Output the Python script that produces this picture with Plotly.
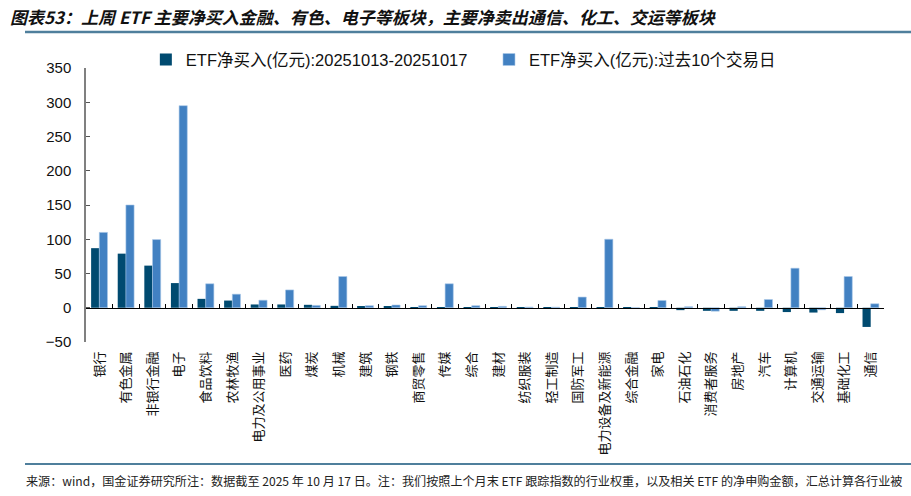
import plotly.graph_objects as go

categories = ["银行", "有色金属", "非银行金融", "电子", "食品饮料", "农林牧渔", "电力及公用事业",
              "医药", "煤炭", "机械", "建筑", "钢铁", "商贸零售", "传媒", "综合", "建材",
              "纺织服装", "轻工制造", "国防军工", "电力设备及新能源", "综合金融", "家电",
              "石油石化", "消费者服务", "房地产", "汽车", "计算机", "交通运输", "基础化工", "通信"]

week_values = [87, 79, 61.5, 36, 13, 10.5, 4.8, 4.8, 4.3, 2.8, 1.8, 1.2, 0.8, 0.8, 0.6, 0.4,
               0.8, 0.5, -0.6, -1.2, -0.5, -1.5, -3.5, -4.5, -4.5, -4.5, -6.3, -7, -7.8, -28]

ten_day_values = [110, 150, 99.5, 295, 35, 19.8, 11, 26, 3.4, 45.6, 3, 4, 3, 35, 3, 2,
                  1, 0.8, 15.6, 100, -0.5, 10.6, 1.5, -5, 1.5, 12, 57.7, -3, 45.6, 5.8]

week_name = "ETF净买入(亿元):20251013-20251017"
ten_day_name = "ETF净买入(亿元):过去10个交易日"

y_ticks = [-50, 0, 50, 100, 150, 200, 250, 300, 350]

title_text = "图表53：上周 ETF 主要净买入金融、有色、电子等板块，主要净卖出通信、化工、交运等板块"
source_text = ("来源：wind，国金证券研究所注：数据截至 2025 年 10 月 17 日。注：我们按照上个月末 ETF "
               "跟踪指数的行业权重，以及相关 ETF 的净申购金额，汇总计算各行业被")

DARK = "#004a70"
LIGHT = "#4281c2"
CJK = "Noto Sans CJK SC"
LAT = "Liberation Sans, Noto Sans CJK SC"

fig = go.Figure()
fig.add_trace(go.Bar(x=categories, y=week_values, name=week_name,
                     marker=dict(color=DARK, line=dict(width=0)), legend="legend"))
fig.add_trace(go.Bar(x=categories, y=ten_day_values, name=ten_day_name,
                     marker=dict(color=LIGHT, line=dict(width=0.6, color="#a9c8e8")),
                     legend="legend2"))
# helper (invisible) trace to carry the zero-position category axis
fig.add_trace(go.Scatter(x=categories, y=[None] * len(categories), xaxis="x2", yaxis="y",
                         mode="markers", showlegend=False, hoverinfo="skip"))

y_min, y_max = y_ticks[0], y_ticks[-1]
zero_pos = (0 - y_min) / (y_max - y_min)

fig.update_layout(
    width=911, height=496,
    margin=dict(l=86, r=27, t=68, b=154),
    paper_bgcolor="white", plot_bgcolor="white",
    barmode="group", bargap=0.385, bargroupgap=0.0,
    showlegend=True,
    legend=dict(orientation="h", x=0.075, y=1.03, xanchor="left", yanchor="middle",
                font=dict(family=LAT, size=16.5, color="#111"), itemwidth=30,
                bgcolor="rgba(0,0,0,0)"),
    legend2=dict(orientation="h", x=0.505, y=1.03, xanchor="left", yanchor="middle",
                 font=dict(family=LAT, size=16.5, color="#111"), itemwidth=30,
                 bgcolor="rgba(0,0,0,0)"),
    xaxis=dict(type="category", categoryorder="array", categoryarray=categories,
               range=[-0.5, len(categories) - 0.5], showline=False, ticks="",
               tickangle=-90, tickfont=dict(family=CJK, size=13, color="#111"),
               ticklabelstandoff=6, showgrid=False, zeroline=False),
    xaxis2=dict(type="category", categoryorder="array", categoryarray=categories,
                range=[-0.5, len(categories) - 0.5], overlaying="x", anchor="free",
                position=zero_pos, side="bottom", showline=True, linecolor="#000",
                linewidth=1, ticks="inside", tickson="boundaries", ticklen=4,
                tickcolor="#000", tickwidth=1, showticklabels=False, showgrid=False,
                zeroline=False),
    yaxis=dict(range=[y_min, y_max], tickvals=y_ticks, showline=True, linecolor="#808080",
               linewidth=1.5, ticks="inside", ticklen=4, tickcolor="#555", tickwidth=1,
               showgrid=False, zeroline=False, ticklabelstandoff=10,
               tickfont=dict(family=LAT, size=15, color="#111")),
    font=dict(family=LAT),
)

fig.add_annotation(text="<b><i>" + title_text + "</i></b>", xref="paper", yref="paper",
                   x=(8 - 86) / 798, y=1 + (68 - 17) / 274, xanchor="left", yanchor="middle",
                   showarrow=False, font=dict(family=CJK, size=17.0, color="#111"))
fig.add_annotation(text=source_text, xref="paper", yref="paper",
                   x=(24 - 86) / 798, y=-(480 - 342) / 274, xanchor="left", yanchor="middle",
                   showarrow=False, font=dict(family=CJK, size=12.1, color="#222"))

fig.add_shape(type="line", xref="paper", yref="paper", x0=(25 - 86) / 798, x1=(911 - 86) / 798,
              y0=1 + (68 - 32) / 274, y1=1 + (68 - 32) / 274,
              line=dict(color="#4f7f9c", width=2.5))
fig.add_shape(type="line", xref="paper", yref="paper", x0=(25 - 86) / 798, x1=(911 - 86) / 798,
              y0=-(464 - 342) / 274, y1=-(464 - 342) / 274,
              line=dict(color="#4f7f9c", width=2))

fig.write_html("out.html", config={"displayModeBar": False},
               post_script="document.body.style.margin='0';")
